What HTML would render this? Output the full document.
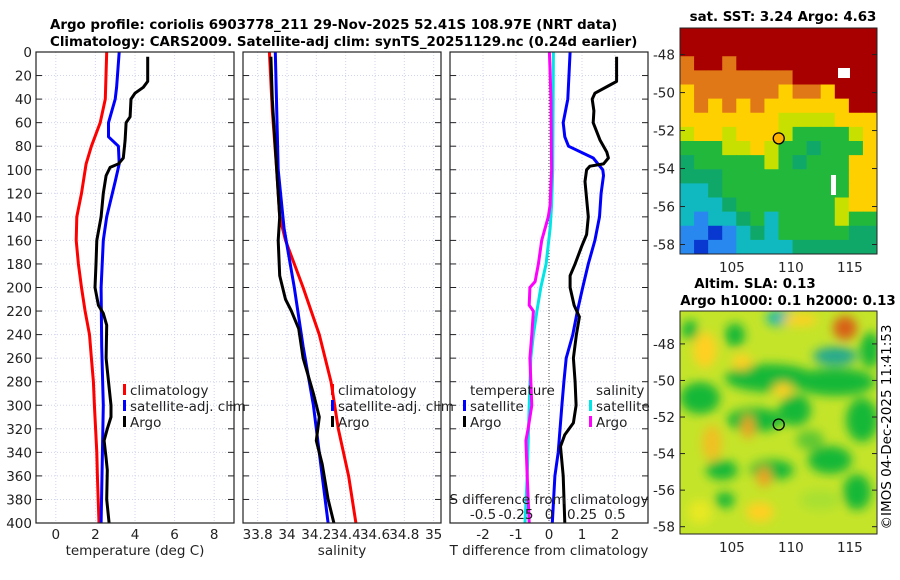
<!DOCTYPE html>
<html><head><meta charset="utf-8"><style>
html,body{margin:0;padding:0;background:#fff;}
svg{display:block;font-family:"DejaVu Sans","Liberation Sans",sans-serif;}
</style></head><body>
<svg id="s" width="900" height="580" xmlns="http://www.w3.org/2000/svg">
<defs>
<filter id="bl" x="-20%" y="-20%" width="140%" height="140%"><feGaussianBlur stdDeviation="5"/></filter>
<clipPath id="c1"><rect x="36" y="52" width="198" height="471"/></clipPath>
<clipPath id="c2"><rect x="243" y="52" width="198" height="471"/></clipPath>
<clipPath id="c3"><rect x="450" y="52" width="198" height="471"/></clipPath>
<clipPath id="cm2"><rect x="680" y="311" width="197" height="223"/></clipPath>
</defs>
<g font-weight="bold" font-size="13.4" fill="#000">
<text x="50" y="29">Argo profile: coriolis 6903778_211 29-Nov-2025 52.41S 108.97E (NRT data)</text>
<text x="50" y="46">Climatology: CARS2009. Satellite-adj clim: synTS_20251129.nc (0.24d earlier)</text>
<text x="783" y="21" text-anchor="middle">sat. SST: 3.24 Argo: 4.63</text>
<text x="755" y="288" text-anchor="middle">Altim. SLA: 0.13</text>
<text x="788" y="305" text-anchor="middle">Argo h1000: 0.1 h2000: 0.13</text>
</g>
<text x="0" y="0" font-size="13.5" transform="translate(891,427) rotate(-90)" text-anchor="middle">©IMOS 04-Dec-2025 11:41:53</text>
<g id="root"></g>
</svg>
<script>
// depths (dbar)
const tClimD=[0,40,60,80,95,120,140,160,180,200,220,240,260,280,300,340,360,400];
const tClimV=[2.57,2.5,2.24,1.8,1.53,1.3,1.06,1.03,1.14,1.3,1.48,1.7,1.8,1.9,1.95,2.07,2.1,2.18];
const tSatD=[0,30,40,60,72,80,95,110,140,160,200,250,300,400];
const tSatV=[3.2,3.07,3.0,2.66,2.66,3.16,3.2,3.0,2.57,2.4,2.29,2.32,2.4,2.29];
const tArgoD=[4,25,30,35,40,55,60,75,90,95,98,105,120,140,160,180,200,215,222,232,260,280,300,310,320,330,345,355,380,400];
const tArgoV=[4.64,4.64,4.42,4.0,3.8,3.75,3.55,3.5,3.41,3.16,2.74,2.54,2.4,2.29,2.07,2.03,1.98,2.15,2.4,2.57,2.54,2.66,2.79,2.79,2.6,2.44,2.54,2.6,2.57,2.69];
const sClimD=[0,50,100,140,160,180,200,240,280,320,360,400];
const sClimV=[33.88,33.9,33.93,33.95,33.99,34.05,34.11,34.22,34.3,34.35,34.42,34.47];
const sSatD=[0,100,150,200,250,300,350,400];
const sSatV=[33.92,33.94,33.98,34.05,34.11,34.18,34.23,34.28];
const sArgoD=[4,40,100,140,160,190,210,220,235,260,290,310,330,350,380,400];
const sArgoV=[33.89,33.9,33.93,33.95,33.94,33.95,33.99,34.03,34.08,34.11,34.18,34.22,34.2,34.24,34.28,34.32];
const dTSatD=[0,40,60,72,80,90,100,105,120,140,160,180,200,220,240,260,280,300,340,360,400];
const dTSatV=[0.64,0.57,0.43,0.48,0.59,1.34,1.63,1.65,1.58,1.53,1.39,1.19,1.02,0.86,0.72,0.52,0.45,0.39,0.28,0.18,0.1];
const dTArgoD=[4,25,28,35,40,50,60,75,85,90,95,97,100,110,140,155,165,180,190,200,215,225,240,260,280,300,315,325,335,360,400];
const dTArgoV=[2.05,2.05,1.85,1.39,1.31,1.36,1.34,1.55,1.75,1.8,1.65,1.24,1.14,1.09,1.19,1.14,0.99,0.79,0.64,0.64,0.76,0.92,0.83,0.74,0.79,0.82,0.74,0.48,0.35,0.43,0.48];
const dSSatD=[0,100,130,150,180,200,220,240,260,300,360,400];
const dSSatV=[0.033,0.028,0.02,0.008,-0.022,-0.062,-0.092,-0.118,-0.138,-0.15,-0.165,-0.182];
const dSArgoD=[0,40,100,130,140,160,180,195,200,215,220,240,260,300,320,330,360,400];
const dSArgoV=[0.003,0.015,0.02,0.008,-0.005,-0.055,-0.08,-0.105,-0.145,-0.15,-0.118,-0.13,-0.145,-0.13,-0.158,-0.175,-0.165,-0.15];
const depthTicks=[0,20,40,60,80,100,120,140,160,180,200,220,240,260,280,300,320,340,360,380,400];
const tTicks=[0,2,4,6,8];
const sTicks=[33.8,34,34.2,34.4,34.6,34.8,35];
const sTickLabels=["33.8","34","34.2","34.4","34.6","34.8","35"];
const dTTicks=[-2,-1,0,1,2];
const dSTicks=[-0.5,-0.25,0,0.25,0.5];
const latTicks=[-48,-50,-52,-54,-56,-58];
const lonTicks=[105,110,115];
const argoLon=108.97, argoLat=-52.41;

const FS=13.5;
const NS="http://www.w3.org/2000/svg";
const root=document.getElementById('root');
function mk(tag,attrs,parent){const e=document.createElementNS(NS,tag);for(const k in attrs)e.setAttribute(k,attrs[k]);(parent||root).appendChild(e);return e;}
const Y0=52,Y1=523;
const y=d=>Y0+(Y1-Y0)*d/400;
function xs(x0,x1,v0,v1){return v=>x0+(x1-x0)*(v-v0)/(v1-v0);}
const panels=[
 {x0:36,x1:234,f:xs(36,234,-1,9),ticks:tTicks,labels:tTicks.map(String),title:"temperature (deg C)",clip:"c1",name:"temperature-panel"},
 {x0:243,x1:441,f:xs(243,441,33.7,35.05),ticks:sTicks,labels:sTickLabels,title:"salinity",clip:"c2",name:"salinity-panel"},
 {x0:450,x1:648,f:xs(450,648,-3,3),ticks:dTTicks,labels:dTTicks.map(String),title:"T difference from climatology",clip:"c3",name:"difference-panel"}
];
panels.forEach((p,pi)=>{
 const g=mk('g',{});
 
 
 depthTicks.forEach(d=>{
  const l=mk('line',{x1:p.x0,x2:p.x1,y1:y(d),y2:y(d),stroke:'#d0d4ee','stroke-width':1,'stroke-dasharray':'1,2'},g);
  
  
  mk('line',{x1:p.x0,x2:p.x0+6,y1:y(d),y2:y(d),stroke:'#222'},g);
  mk('line',{x1:p.x1-6,x2:p.x1,y1:y(d),y2:y(d),stroke:'#222'},g);
 });
 const gx=pi==2?[-3,-2,-1,1,2]:p.ticks;
 gx.forEach(v=>{
  const l=mk('line',{x1:p.f(v),x2:p.f(v),y1:Y0,y2:Y1,stroke:'#d0d4ee','stroke-width':1,'stroke-dasharray':'1,2'},g);
  
  
 });
 p.ticks.forEach((v,i)=>{
  const t=mk('text',{x:p.f(v),y:539,'font-size':FS,'text-anchor':'middle',fill:'#222'},g);
  t.textContent=p.labels[i];
  
  
 });
 const tt=mk('text',{x:(p.x0+p.x1)/2,y:555,'font-size':FS,'text-anchor':'middle',fill:'#222'},g);
 tt.textContent=p.title;
 
 
 if(pi==2){const z=mk('line',{x1:p.f(0),x2:p.f(0),y1:Y0,y2:Y1,stroke:'#444','stroke-dasharray':'1,2'},g);
  
  }
});
depthTicks.forEach(d=>{
 const t=mk('text',{x:32,y:y(d)+5,'font-size':FS,'text-anchor':'end',fill:'#222'});
 t.textContent=d;
 
 
});
function line(D,V,f,col,clip,name,w){
 const pts=D.map((d,i)=>f(V[i]).toFixed(1)+','+y(d).toFixed(1)).join(' ');
 const e=mk('polyline',{points:pts,fill:'none',stroke:col,'stroke-width':w||3,'clip-path':'url(#'+clip+')','stroke-linejoin':'round'});
 
 
}
const P=panels;
line(tClimD,tClimV,P[0].f,'#ff0000','c1','temp-climatology-line');
line(tSatD,tSatV,P[0].f,'#0000ff','c1','temp-satellite-line');
line(tArgoD,tArgoV,P[0].f,'#000','c1','temp-argo-line');
line(sClimD,sClimV,P[1].f,'#ff0000','c2','sal-climatology-line');
line(sSatD,sSatV,P[1].f,'#0000ff','c2','sal-satellite-line');
line(sArgoD,sArgoV,P[1].f,'#000','c2','sal-argo-line');
const fS=v=>P[2].f(v*4);
line(dSSatD,dSSatV,fS,'#00e5e5','c3','sdiff-satellite-line');
line(dSArgoD,dSArgoV,fS,'#ff00ff','c3','sdiff-argo-line');
line(dTSatD,dTSatV,P[2].f,'#0000ff','c3','tdiff-satellite-line');
line(dTArgoD,dTArgoV,P[2].f,'#000','c3','tdiff-argo-line');
panels.forEach(p=>{const r=mk('rect',{x:p.x0,y:Y0,width:p.x1-p.x0,height:Y1-Y0,fill:'none',stroke:'#222','stroke-width':1.2});
 
 });
const st=mk('text',{x:549,y:504,'font-size':FS,'text-anchor':'middle',fill:'#222'});
st.textContent='S difference from climatology';


dSTicks.forEach(v=>{const t=mk('text',{x:fS(v),y:519,'font-size':FS,'text-anchor':'middle',fill:'#222'});
 t.textContent=String(v);
 
 });
function leg(x,yy,col,txt,name){
 if(col){mk('rect',{x:x-7,y:yy-6,width:3,height:11,fill:col});}
 const t=mk('text',{x:x,y:yy+5,'font-size':FS,fill:'#222'});t.textContent=txt;
 
 
}
leg(130,390,'#ff0000','climatology','legend-climatology');
leg(130,406,'#0000ff','satellite-adj. clim','legend-satellite-adj');
leg(130,422,'#000','Argo','legend-argo');
leg(338,390,'#ff0000','climatology','legend-climatology');
leg(338,406,'#0000ff','satellite-adj. clim','legend-satellite-adj');
leg(338,422,'#000','Argo','legend-argo');
leg(470,390,null,'temperature','legend-temperature-header');
leg(470,406,'#0000ff','satellite','legend-t-satellite');
leg(470,422,'#000','Argo','legend-t-argo');
leg(596,390,null,'salinity','legend-salinity-header');
leg(596,406,'#00e5e5','satellite','legend-s-satellite');
leg(596,422,'#ff00ff','Argo','legend-s-argo');

// ---- maps ----
const MX0=680,MX1=877;
const lonF=xs(MX0,MX1,100.6,117.3);
const grid=[
"RRRRRRRRRRRRRR","RRRRRRRRRRRRRR","ORRORRRRRRRRRR","OOOOOOOORRRRRR",
"YOOOOOOYOOYRRR","YOYOYOYYYYYYRR","YYYYYYYLLLLYYY","LYYLYYYLGGGGLY",
"GGGLLYLGGgGGGY","gGGGGGLGgGGGYY","gggGGGGGGGGGYY","CCgGGGGGGGGGYY",
"CCCgGGGGGGGLYY","CBCCgGCGGGGLGG","BBDBCgCGGGGGgg","BDBBCCCCgggggg"];
const cmap={R:'#a80000',O:'#e07818',Y:'#ffd000',L:'#c8e000',G:'#22b83c',g:'#10a868',C:'#10b8c0',B:'#2888f0',D:'#0838d0'};
function mapAxes(top,bot,latF,name){
 const r=mk('rect',{x:MX0,y:top,width:MX1-MX0,height:bot-top,fill:'none',stroke:'#222'});
 
 
 latTicks.forEach(v=>{mk('line',{x1:MX0,x2:MX0+5,y1:latF(v),y2:latF(v),stroke:'#222'});
  mk('line',{x1:MX1-5,x2:MX1,y1:latF(v),y2:latF(v),stroke:'#222'});
  const t=mk('text',{x:675,y:latF(v)+5,'font-size':FS,'text-anchor':'end',fill:'#222'});t.textContent=v;
  
  });
 lonTicks.forEach(v=>{const t=mk('text',{x:lonF(v),y:bot+18,'font-size':FS,'text-anchor':'middle',fill:'#222'});t.textContent=v;
  
  });
 const c=mk('circle',{cx:lonF(argoLon),cy:latF(argoLat),r:5.5,fill:name=='sst-map'?'#ffb000':'none',stroke:'#000','stroke-width':1.3});
 
 
}
{const top=28,bot=254;
 const g=mk('g',{});
 const cw=(MX1-MX0)/14,ch=(bot-top)/16;
 grid.forEach((row,i)=>[...row].forEach((c,j)=>mk('rect',{x:MX0+j*cw,y:top+i*ch,width:cw+0.5,height:ch+0.5,fill:cmap[c]},g)));
 mk('rect',{x:838,y:68,width:12,height:10,fill:'#fff'},g);
 mk('rect',{x:831,y:175,width:5,height:20,fill:'#fff'},g);
 mapAxes(top,bot,xs(top,bot,-46.6,-58.5),'sst-map');}
{const top=311,bot=534;
 const g=mk('g',{'clip-path':'url(#cm2)'});
 mk('rect',{x:MX0,y:top,width:197,height:223,fill:'#c4e42a'},g);
 const bg=mk('g',{filter:'url(#bl)'},g);
 const blobs=[[780,318,14,8,'#18b8b0'],[845,328,12,12,'#d86018'],[835,356,22,9,'#20a890'],
 [705,350,12,18,'#ffd020'],[735,335,10,12,'#18b838'],[690,330,8,10,'#18b838'],[770,378,45,14,'#18b838'],[835,382,40,14,'#18b838'],
 [700,398,20,16,'#18b838'],[755,420,28,12,'#18b838'],[795,410,16,16,'#18b838'],[862,420,16,22,'#18b838'],
 [742,362,10,8,'#ffd020'],[783,390,10,7,'#ffd020'],[748,427,6,12,'#f0a020'],[712,443,10,18,'#f0c020'],
 [722,470,16,10,'#18b838'],[772,470,22,10,'#18b838'],[830,460,22,14,'#18b838'],[764,477,7,10,'#f0a020'],
 [700,512,12,12,'#e8e820'],[760,512,14,10,'#ffd020'],[820,500,20,10,'#a8e030'],[857,492,14,18,'#18b838'],
 [800,320,18,6,'#ffd020'],[870,350,10,18,'#18b838'],[725,500,10,8,'#18b838'],[810,440,14,10,'#60c830']];
 blobs.forEach(b=>mk('ellipse',{cx:b[0],cy:b[1],rx:b[2],ry:b[3],fill:b[4]},bg));
 mapAxes(top,bot,xs(top,bot,-46.2,-58.4),'sla-map');}
</script>
</body></html>
